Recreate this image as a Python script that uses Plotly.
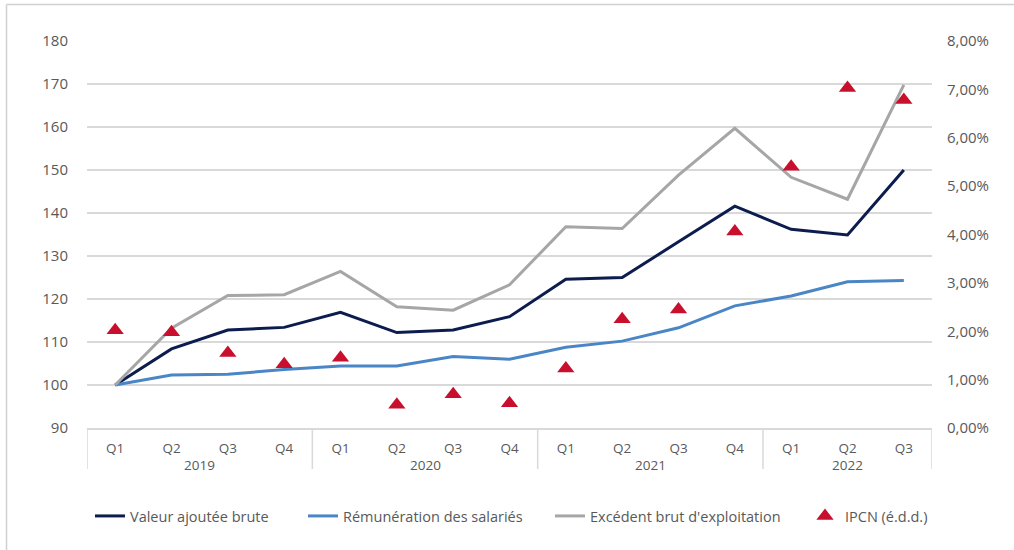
import plotly.graph_objects as go

years = ["2019"] * 4 + ["2020"] * 4 + ["2021"] * 4 + ["2022"] * 3
quarters = ["Q1", "Q2", "Q3", "Q4"] * 3 + ["Q1", "Q2", "Q3"]

vab = [100, 108.4, 112.8, 113.4, 116.9, 112.2, 112.8, 115.9,
       124.6, 125.0, 133.3, 141.6, 136.2, 134.9, 150.0]
remun = [100, 102.3, 102.5, 103.6, 104.4, 104.4, 106.6, 106.0,
         108.8, 110.2, 113.3, 118.4, 120.7, 124.0, 124.3]
ebe = [100, 113.2, 120.8, 121.0, 126.4, 118.2, 117.4, 123.3,
       136.8, 136.4, 148.8, 159.7, 148.3, 143.2, 169.8]
ipcn = [0.0202, 0.0198, 0.0155, 0.0132, 0.0145, 0.0048, 0.0070, 0.0051,
        0.0123, 0.0225, 0.0245, 0.0406, 0.0540, 0.0703, 0.0678]

names = ["Valeur ajoutée brute", "Rémunération des salariés",
         "Excédent brut d'exploitation", "IPCN (é.d.d.)"]

cats = [f"{y} {q}" for y, q in zip(years, quarters)]
FONT = "Open Sans"
TXT = "#595959"
GRID = "#d9d9d9"

L, R, T, B = 87, 932, 41, 428
W, H = 1014, 550
pw, ph = R - L, B - T

fig = go.Figure()
fig.add_trace(go.Scatter(x=cats, y=vab, name=names[0], mode="lines", legend="legend",
                         line=dict(color="#0c1c4e", width=3)))
fig.add_trace(go.Scatter(x=cats, y=remun, name=names[1], mode="lines", legend="legend2",
                         line=dict(color="#4a86c6", width=3)))
fig.add_trace(go.Scatter(x=cats, y=ebe, name=names[2], mode="lines", legend="legend3",
                         line=dict(color="#a6a6a6", width=3)))
fig.add_trace(go.Scatter(x=cats, y=ipcn, name=names[3], mode="markers", yaxis="y2",
                         legend="legend4",
                         marker=dict(symbol="triangle-up", size=15, color="#c8102e")))

def leg(px):
    return dict(orientation="h", x=(px - L) / pw, xanchor="left",
                y=(B - 516) / ph, yanchor="middle",
                font=dict(family=FONT, size=14.5, color=TXT),
                itemwidth=30, bgcolor="rgba(0,0,0,0)")

fig.update_layout(
    width=W, height=H,
    margin=dict(l=L, r=W - R, t=T, b=H - B, pad=0),
    paper_bgcolor="white", plot_bgcolor="white",
    separators=",.",
    font=dict(family=FONT, color=TXT, size=14),
    showlegend=True,
    legend=leg(90), legend2=leg(303), legend3=leg(550), legend4=leg(805),
    xaxis=dict(type="category", range=[-0.5, len(cats) - 0.5], showgrid=False,
               showline=True, linecolor=GRID, linewidth=1.5, ticks="",
               tickmode="array", tickvals=cats, ticktext=quarters,
               ticklabelstandoff=7,
               tickfont=dict(family=FONT, size=13.5, color=TXT)),
    yaxis=dict(range=[90, 180], dtick=10, showgrid=True, gridcolor=GRID,
               gridwidth=1.5, zeroline=False, showline=False, ticks="",
               ticklabelstandoff=18,
               tickfont=dict(family=FONT, size=15, color=TXT)),
    yaxis2=dict(range=[0, 0.08], dtick=0.01, tickformat=".2%", overlaying="y",
                side="right", showgrid=False, zeroline=False, showline=False,
                ticks="", ticklabelstandoff=14,
                tickfont=dict(family=FONT, size=15, color=TXT)),
)

# year group labels and dividers
uniq_years = list(dict.fromkeys(years))
bounds = [-0.5]
for yr in uniq_years:
    idx = [i for i, y in enumerate(years) if y == yr]
    fig.add_annotation(x=sum(idx) / len(idx), xref="x", y=(B - 465) / ph, yref="paper",
                       text=yr, showarrow=False, yanchor="middle",
                       font=dict(family=FONT, size=13.5, color=TXT))
    bounds.append(idx[-1] + 0.5)
for b in bounds:
    fig.add_shape(type="line", xref="x", yref="paper", x0=b, x1=b,
                  y0=0, y1=(B - 469) / ph, line=dict(color=GRID, width=1.5))

# outer frame (top and left edges visible)
fig.add_shape(type="line", xref="paper", yref="paper",
              x0=(6.5 - L) / pw, x1=(W + 5 - L) / pw,
              y0=(B - 4.5) / ph, y1=(B - 4.5) / ph,
              line=dict(color="#d0d0d0", width=1.5))
fig.add_shape(type="line", xref="paper", yref="paper",
              x0=(6.5 - L) / pw, x1=(6.5 - L) / pw,
              y0=(B - 4.5) / ph, y1=(B - H - 5) / ph,
              line=dict(color="#d0d0d0", width=1.5))

fig.write_html("out.html")
